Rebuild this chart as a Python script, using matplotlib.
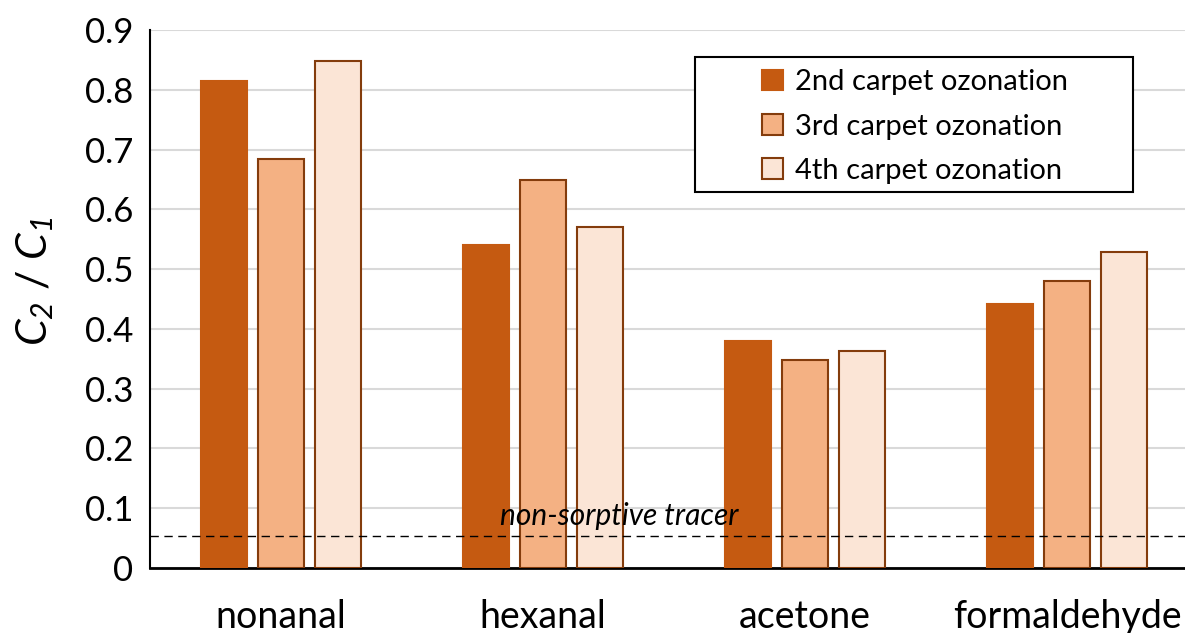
import matplotlib.pyplot as plt
import matplotlib.patches as mpatches
import numpy as np

plt.rcParams['font.family'] = ['Lato', 'DejaVu Sans']
plt.rcParams['mathtext.fontset'] = 'custom'
plt.rcParams['mathtext.it'] = 'Lato:italic'
plt.rcParams['mathtext.rm'] = 'Lato:italic'

compounds = ['nonanal', 'hexanal', 'acetone', 'formaldehyde']
ozon2 = [0.814, 0.540, 0.380, 0.441]
ozon3 = [0.684, 0.649, 0.348, 0.480]
ozon4 = [0.848, 0.570, 0.363, 0.528]
series_names = ['2nd carpet ozonation', '3rd carpet ozonation', '4th carpet ozonation']
tracer = 0.054

fills = ['#C55A11', '#F4B183', '#FBE5D6']
edges = ['#C55A11', '#843C0C', '#843C0C']

fig = plt.figure(figsize=(11.85, 6.33), dpi=100)
ax = fig.add_axes([150/1185, 65/633, 1 - 150/1185, 538/633])

x = np.arange(len(compounds))
w = 0.175
step = 0.218
for i, vals in enumerate([ozon2, ozon3, ozon4]):
    ax.bar(x + (i - 1) * step, vals, w, color=fills[i], edgecolor=edges[i],
           linewidth=1.5, label=series_names[i], zorder=3)

ax.axhline(tracer, color='black', linestyle=(0, (6, 4)), linewidth=1, zorder=4)
ax.text(1.29, 0.087, 'non-sorptive tracer', style='italic', fontsize=21.5,
        ha='center', va='center', zorder=5)

ax.set_xlim(-0.5, 3.45)
ax.set_ylim(0, 0.9)
ax.set_yticks(np.arange(0, 0.91, 0.1))
ax.set_yticklabels(['0'] + ['%.1f' % v for v in np.arange(0.1, 0.91, 0.1)])
ax.set_xticks(x)
ax.set_xticklabels(compounds)
ax.tick_params(axis='both', length=0, labelsize=25)
ax.tick_params(axis='x', labelsize=27, pad=22)
ax.tick_params(axis='y', pad=12)
ax.yaxis.grid(True, color='#D9D9D9', linewidth=1.5, zorder=0)
ax.set_axisbelow(True)
for s in ['top', 'right']:
    ax.spines[s].set_visible(False)
ax.spines['left'].set_linewidth(1.5)
ax.spines['bottom'].set_linewidth(2)

fig.text(35/1185, 1 - 281/633, '$C_2$ / $C_1$', fontsize=31, rotation=90,
         ha='center', va='center')

fig.patches.append(mpatches.Rectangle((695/1185, 1 - 192/633), 438/1185, 135/633,
                                      transform=fig.transFigure, fill=True,
                                      facecolor='white', edgecolor='black',
                                      linewidth=1.5, zorder=10))
leg = fig.legend(loc='upper left', bbox_to_anchor=(742/1185, 1 - 49/633),
                 frameon=False, fontsize=21, handlelength=0.7, handleheight=0.7,
                 handletextpad=0.4, labelspacing=0.62, borderpad=0.2)
leg.set_zorder(11)

fig.savefig('out.png', dpi=100)
